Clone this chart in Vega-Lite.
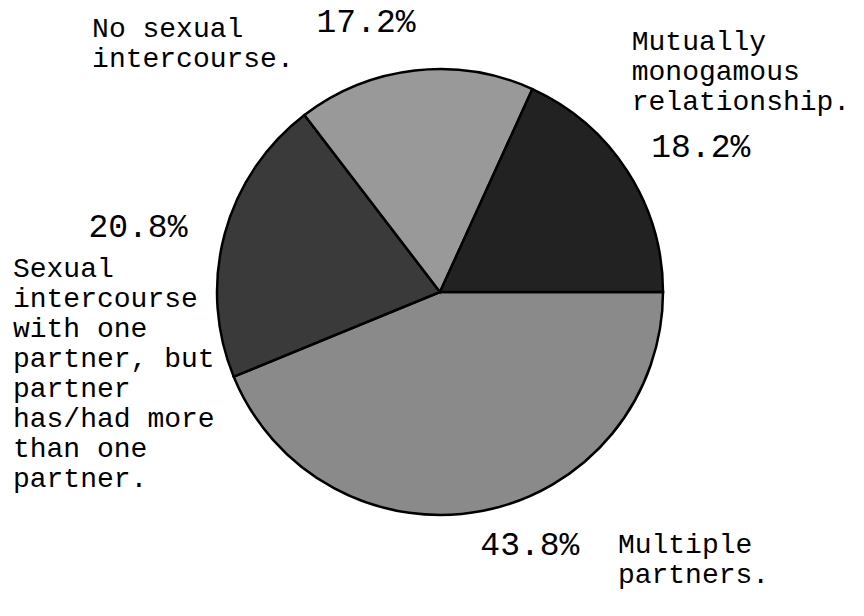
{
  "$schema": "https://vega.github.io/schema/vega-lite/v6.json",
  "width": 848,
  "height": 584,
  "autosize": {"type": "none"},
  "padding": {"left": 16, "top": 0, "right": 0, "bottom": 32},
  "background": "white",
  "config": {"view": {"stroke": null}, "text": {"font": "Liberation Mono", "color": "black"}},
  "data": {"values": [
    {"cat": "Multiple partners", "share": 0.438, "k": 1, "name": "Multiple\npartners."},
    {"cat": "One partner, partner had more", "share": 0.208, "k": 2, "name": "Sexual\nintercourse\nwith one\npartner, but\npartner\nhas/had more\nthan one\npartner."},
    {"cat": "No sexual intercourse", "share": 0.172, "k": 3, "name": "No sexual\nintercourse."},
    {"cat": "Mutually monogamous relationship", "share": 0.182, "k": 4, "name": "Mutually\nmonogamous\nrelationship."}
  ]},
  "encoding": {
    "theta": {"field": "share", "type": "quantitative", "stack": true, "scale": {"domain": [0, 1], "range": [1.5707963, 7.8539816]}},
    "order": {"field": "k", "type": "quantitative"}
  },
  "layer": [
    {
      "mark": {"type": "arc", "outerRadius": 223, "stroke": "black", "strokeWidth": 2.5},
      "encoding": {
        "color": {"field": "cat", "type": "nominal", "legend": null,
          "scale": {"domain": ["Multiple partners", "One partner, partner had more", "No sexual intercourse", "Mutually monogamous relationship"],
                    "range": ["#8a8a8a", "#3a3a3a", "#999999", "#222222"]}}
      }
    },
    {
      "mark": {"type": "text", "radius": 250, "dx": 41.5, "dy": 17.8, "align": "center", "baseline": "alphabetic", "fontSize": 33},
      "encoding": {"text": {"condition": {"test": "datum.k === 1", "field": "share", "type": "quantitative", "format": ".1%"}, "value": ""}}
    },
    {
      "mark": {"type": "text", "radius": 250, "dx": 129.5, "dy": 15.8, "align": "left", "baseline": "alphabetic", "fontSize": 28, "lineHeight": 30, "lineBreak": "\n"},
      "encoding": {"text": {"condition": {"test": "datum.k === 1", "field": "name"}, "value": ""}}
    },
    {
      "mark": {"type": "text", "radius": 250, "dx": -60.7, "dy": 10.5, "align": "center", "baseline": "alphabetic", "fontSize": 33},
      "encoding": {"text": {"condition": {"test": "datum.k === 2", "field": "share", "type": "quantitative", "format": ".1%"}, "value": ""}}
    },
    {
      "mark": {"type": "text", "radius": 250, "dx": -185.7, "dy": 50.5, "align": "left", "baseline": "alphabetic", "fontSize": 28, "lineHeight": 30, "lineBreak": "\n"},
      "encoding": {"text": {"condition": {"test": "datum.k === 2", "field": "name"}, "value": ""}}
    },
    {
      "mark": {"type": "text", "radius": 250, "dx": -45.7, "dy": -11.6, "align": "center", "baseline": "alphabetic", "fontSize": 33},
      "encoding": {"text": {"condition": {"test": "datum.k === 3", "field": "share", "type": "quantitative", "format": ".1%"}, "value": ""}}
    },
    {
      "mark": {"type": "text", "radius": 250, "dx": -319.7, "dy": -6.6, "align": "left", "baseline": "alphabetic", "fontSize": 28, "lineHeight": 30, "lineBreak": "\n"},
      "encoding": {"text": {"condition": {"test": "datum.k === 3", "field": "name"}, "value": ""}}
    },
    {
      "mark": {"type": "text", "radius": 250, "dx": 50.5, "dy": 0, "align": "center", "baseline": "alphabetic", "fontSize": 33},
      "encoding": {"text": {"condition": {"test": "datum.k === 4", "field": "share", "type": "quantitative", "format": ".1%"}, "value": ""}}
    },
    {
      "mark": {"type": "text", "radius": 250, "dx": -18.5, "dy": -107, "align": "left", "baseline": "alphabetic", "fontSize": 28, "lineHeight": 30, "lineBreak": "\n"},
      "encoding": {"text": {"condition": {"test": "datum.k === 4", "field": "name"}, "value": ""}}
    }
  ]
}
